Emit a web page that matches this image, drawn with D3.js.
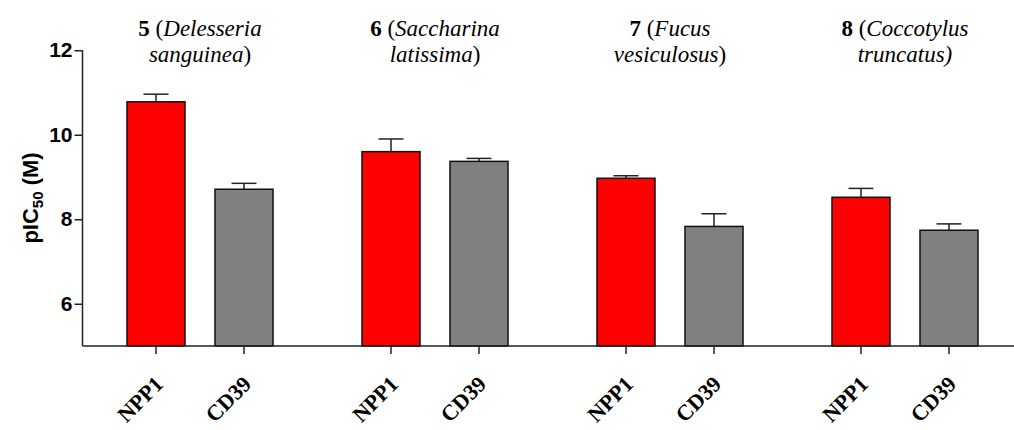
<!DOCTYPE html>
<meta charset="utf-8">
<script src="https://d3js.org/d3.v7.min.js"></script>
<style>
  body { margin: 0; background: #fff; }
</style>
<div id="my_dataviz"></div>
<script>
  // data
  var groups = ["5", "6", "7", "8"];
  var genus = ["Delesseria", "Saccharina", "Fucus", "Coccotylus"];
  var species = ["sanguinea", "latissima", "vesiculosus", "truncatus"];
  var enzymes = ["NPP1", "CD39"];
  var npp1Values = [10.78, 9.60, 8.97, 8.52];
  var npp1Errors = [0.18, 0.30, 0.06, 0.21];
  var cd39Values = [8.71, 9.37, 7.83, 7.74];
  var cd39Errors = [0.14, 0.07, 0.30, 0.15];
  var yTicks = [6, 8, 10, 12];

  var colors = { NPP1: "#ff0000", CD39: "#808080" };

  var width = 1014, height = 430;

  var svg = d3.select("#my_dataviz")
    .append("svg")
      .attr("width", width)
      .attr("height", height);

  var x0 = d3.scaleBand()
      .domain(groups)
      .range([82.5, 1022.5]);

  var x1 = d3.scaleBand()
      .domain(enzymes)
      .range([44.5, 190.5])
      .paddingInner(30 / 88);

  var y = d3.scaleLinear()
      .domain([5, 12])
      .range([346, 50.25]);

  var data = [];
  groups.forEach(function(g, i) {
    data.push({ group: g, enzyme: "NPP1", value: npp1Values[i], err: npp1Errors[i] });
    data.push({ group: g, enzyme: "CD39", value: cd39Values[i], err: cd39Errors[i] });
  });

  // error bars (drawn first so the bar outline sits on top)
  var errG = svg.append("g")
    .attr("stroke", "#222")
    .attr("stroke-width", 1.5);

  data.forEach(function(d) {
    var cx = x0(d.group) + x1(d.enzyme) + x1.bandwidth() / 2;
    var capW = 12.5;
    errG.append("line")
      .attr("x1", cx).attr("x2", cx)
      .attr("y1", y(d.value)).attr("y2", y(d.value + d.err));
    errG.append("line")
      .attr("x1", cx - capW).attr("x2", cx + capW)
      .attr("y1", y(d.value + d.err)).attr("y2", y(d.value + d.err));
  });

  // bars
  svg.append("g")
    .selectAll("rect")
    .data(data)
    .enter()
    .append("rect")
      .attr("x", function(d) { return x0(d.group) + x1(d.enzyme); })
      .attr("y", function(d) { return y(d.value); })
      .attr("width", x1.bandwidth())
      .attr("height", function(d) { return y(5) - y(d.value); })
      .attr("fill", function(d) { return colors[d.enzyme]; })
      .attr("stroke", "#111")
      .attr("stroke-width", 1.5);

  // y axis
  var yAxis = svg.append("g")
    .attr("transform", "translate(82.5,0)")
    .call(d3.axisLeft(y).tickValues(yTicks).tickSize(8).tickPadding(2).tickFormat(d3.format("d")));
  yAxis.select(".domain").attr("stroke", "#222").attr("stroke-width", 1.5)
    .attr("d", "M0," + y(12) + "V" + y(5));
  yAxis.selectAll(".tick line").attr("stroke", "#222").attr("stroke-width", 1.5);
  yAxis.selectAll(".tick text")
    .attr("fill", "#000")
    .style("font-family", "'Liberation Sans', Arial, sans-serif")
    .style("font-weight", "bold")
    .style("font-size", "21px");

  // x axis
  svg.append("line")
    .attr("x1", 82.5).attr("x2", width)
    .attr("y1", y(5)).attr("y2", y(5))
    .attr("stroke", "#222").attr("stroke-width", 1.5);

  data.forEach(function(d) {
    var cx = x0(d.group) + x1(d.enzyme) + x1.bandwidth() / 2;
    svg.append("line")
      .attr("x1", cx).attr("x2", cx)
      .attr("y1", y(5)).attr("y2", y(5) + 8)
      .attr("stroke", "#222").attr("stroke-width", 1.5);
    svg.append("text")
      .attr("transform", "translate(" + (cx + 3) + ",380) rotate(-45)")
      .attr("text-anchor", "end")
      .attr("dy", "0.35em")
      .style("font-family", "'Liberation Serif', 'Times New Roman', serif")
      .style("font-weight", "bold")
      .style("font-size", "22px")
      .text(d.enzyme);
  });

  // y label
  var ylab = svg.append("text")
    .attr("transform", "translate(38,198) rotate(-90)")
    .attr("text-anchor", "middle")
    .style("font-family", "'Liberation Sans', Arial, sans-serif")
    .style("font-weight", "bold")
    .style("font-size", "22px");
  ylab.append("tspan").text("pIC");
  ylab.append("tspan").attr("dy", 5).style("font-size", "15px").text("50");
  ylab.append("tspan").attr("dy", -5).text(" (M)");

  // group titles
  groups.forEach(function(g, i) {
    var cx = x0(g) + x0.bandwidth() / 2;
    var t = svg.append("text")
      .attr("text-anchor", "middle")
      .style("font-family", "'Liberation Serif', 'Times New Roman', serif")
      .style("font-size", "23px");
    var l1 = t.append("tspan").attr("x", cx).attr("y", 36);
    l1.append("tspan").style("font-weight", "bold").text(g);
    l1.append("tspan").text(" (");
    l1.append("tspan").style("font-style", "italic").text(genus[i]);
    var l2 = t.append("tspan").attr("x", cx).attr("y", 62);
    l2.append("tspan").style("font-style", "italic").text(species[i]);
    l2.append("tspan").style("font-style", i === 3 ? "italic" : "normal").text(")");
  });
</script>
